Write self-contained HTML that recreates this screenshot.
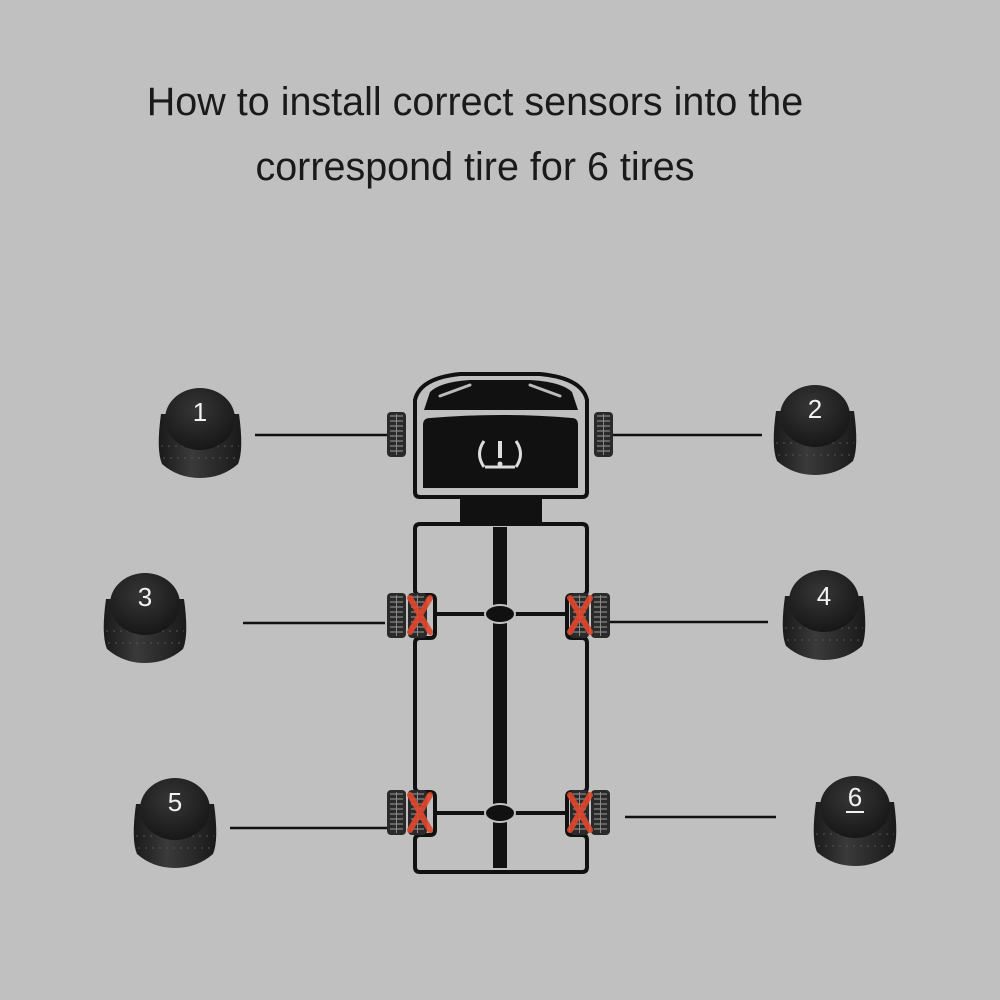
<!DOCTYPE html>
<html><head><meta charset="utf-8"><style>
html,body{margin:0;padding:0;background:#c0c0c0;}
svg{display:block}
</style></head><body>
<svg width="1000" height="1000" viewBox="0 0 1000 1000" xmlns="http://www.w3.org/2000/svg">
<defs>
<radialGradient id="top" cx="0.45" cy="0.35" r="0.7">
<stop offset="0" stop-color="#363636"/><stop offset="1" stop-color="#151515"/>
</radialGradient>
<linearGradient id="side" x1="0" x2="1">
<stop offset="0" stop-color="#1a1a1a"/><stop offset="0.4" stop-color="#3a3a3a"/><stop offset="1" stop-color="#1a1a1a"/>
</linearGradient>
<g id="sensor">
<path d="M-39,-18 Q-44,18 -38,32 Q-22,46 0,46 Q22,46 38,32 Q44,18 39,-18 Z" fill="url(#side)"/>
<path d="M-39,14 L39,14 M-37,26 L37,26" stroke="#555" stroke-width="1" stroke-dasharray="2 5" fill="none"/>
<ellipse cx="0" cy="-13" rx="35" ry="31" fill="url(#top)"/>
</g>
<g id="tire">
<rect x="0" y="0" width="19" height="45" rx="4" fill="#2a2a2a"/>
<path d="M3,4 H16 M3,9 H16 M3,14 H16 M3,19 H16 M3,24 H16 M3,29 H16 M3,34 H16 M3,39 H16" stroke="#777" stroke-width="1.5"/>
<line x1="9.5" y1="2" x2="9.5" y2="43" stroke="#888" stroke-width="1"/>
</g>
</defs>
<rect width="1000" height="1000" fill="#c0c0c0"/>
<text x="475" y="115" font-family="Liberation Sans, sans-serif" font-size="39.5" fill="#1a1a1a" text-anchor="middle">How to install correct sensors into the</text>
<text x="475" y="180" font-family="Liberation Sans, sans-serif" font-size="39.5" fill="#1a1a1a" text-anchor="middle">correspond tire for 6 tires</text>

<g stroke="#111" stroke-width="2.5">
<line x1="255" y1="435" x2="388" y2="435"/>
<line x1="613" y1="435" x2="762" y2="435"/>
<line x1="243" y1="623" x2="385" y2="623"/>
<line x1="610" y1="622" x2="768" y2="622"/>
<line x1="230" y1="828" x2="388" y2="828"/>
<line x1="625" y1="817" x2="776" y2="817"/>
</g>

<path d="M415,400 Q420,378 460,374 L540,374 Q582,378 587,400 L587,492 Q587,497 582,497 L420,497 Q415,497 415,492 Z" fill="#c0c0c0" stroke="#111" stroke-width="4"/>
<path d="M430,392 Q440,382 470,380 L530,380 Q562,382 572,392 L578,410 L424,410 Z" fill="#111"/>
<path d="M440,396 L470,385 M530,385 L560,396" stroke="#bbb" stroke-width="3" stroke-linecap="round"/>
<path d="M423,425 Q423,418 430,418 Q500,412 572,418 Q578,418 578,425 L578,488 L423,488 Z" fill="#111"/>
<path d="M484,441 Q475,454 484,467 M516,441 Q525,454 516,467 M485,467 L515,467" stroke="#ddd" stroke-width="3" fill="none"/>
<line x1="500" y1="441" x2="500" y2="458" stroke="#ddd" stroke-width="4"/>
<circle cx="500" cy="464" r="2.5" fill="#ddd"/>
<rect x="460" y="497" width="82" height="27" fill="#111"/>
<path d="M420,524 L582,524 Q587,524 587,529 L587,590 Q587,595 582,595 L572,595 Q567,595 567,600 L567,633 Q567,638 572,638 L582,638 Q587,638 587,643 L587,787 Q587,792 582,792 L572,792 Q567,792 567,797 L567,830 Q567,835 572,835 L582,835 Q587,835 587,840 L587,867 Q587,872 582,872 L420,872 Q415,872 415,867 L415,840 Q415,835 420,835 L430,835 Q435,835 435,830 L435,797 Q435,792 430,792 L420,792 Q415,792 415,787 L415,643 Q415,638 420,638 L430,638 Q435,638 435,633 L435,600 Q435,595 430,595 L420,595 Q415,595 415,590 L415,529 Q415,524 420,524 Z" fill="none" stroke="#111" stroke-width="4"/>
<rect x="493" y="527" width="14" height="341" fill="#111"/>
<line x1="435" y1="614" x2="567" y2="614" stroke="#111" stroke-width="4"/>
<line x1="435" y1="813" x2="567" y2="813" stroke="#111" stroke-width="4"/>
<ellipse cx="500" cy="614" rx="15" ry="9" fill="#111" stroke="#c0c0c0" stroke-width="2"/>
<ellipse cx="500" cy="813" rx="15" ry="9" fill="#111" stroke="#c0c0c0" stroke-width="2"/>

<use href="#tire" x="387" y="412"/>
<use href="#tire" x="594" y="412"/>
<use href="#tire" x="387" y="593"/><use href="#tire" x="408" y="593"/>
<use href="#tire" x="570" y="593"/><use href="#tire" x="591" y="593"/>
<use href="#tire" x="387" y="790"/><use href="#tire" x="408" y="790"/>
<use href="#tire" x="570" y="790"/><use href="#tire" x="591" y="790"/>
<g stroke="#e0472d" stroke-width="6" stroke-linecap="round" opacity="0.9">
<path d="M410,598 L430,632 M430,598 L410,632"/>
<path d="M570,598 L590,632 M590,598 L570,632"/>
<path d="M410,795 L430,830 M430,795 L410,830"/>
<path d="M570,795 L590,830 M590,795 L570,830"/>
</g>

<g font-family="Liberation Sans, sans-serif" font-size="26" fill="#f2f2f2" text-anchor="middle">
<use href="#sensor" x="200" y="432"/><text x="200" y="421">1</text>
<use href="#sensor" x="815" y="429"/><text x="815" y="418">2</text>
<use href="#sensor" x="145" y="617"/><text x="145" y="606">3</text>
<use href="#sensor" x="824" y="614"/><text x="824" y="605">4</text>
<use href="#sensor" x="175" y="822"/><text x="175" y="811">5</text>
<use href="#sensor" x="855" y="820"/><text x="855" y="806">6</text>
<line x1="846" y1="812" x2="864" y2="812" stroke="#f2f2f2" stroke-width="2"/>
</g>
</svg>
</body></html>
